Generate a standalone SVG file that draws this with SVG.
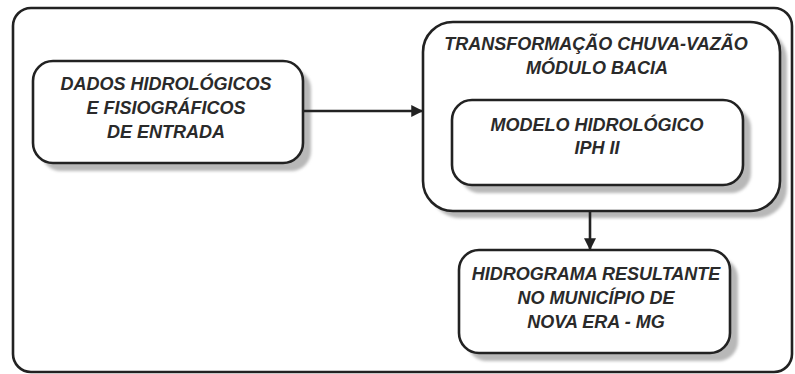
<svg xmlns="http://www.w3.org/2000/svg" width="795" height="374" viewBox="0 0 795 374">
<defs>
<style>
.box{fill:#fff;stroke:#222;stroke-width:2.6}
.sh{fill:#b8b8b8}
.t{font-family:"Liberation Sans",Arial,sans-serif;font-weight:bold;font-style:italic;font-size:18px;fill:#2a2a2a;text-anchor:middle}
.c{stroke:#222;stroke-width:2.6;fill:none}
</style>
<filter id="blur" x="-10%" y="-10%" width="120%" height="120%"><feGaussianBlur stdDeviation="1.5"/></filter>
<marker id="ah" viewBox="0 0 10 10" refX="9" refY="5" markerWidth="5" markerHeight="4.6" orient="auto" markerUnits="strokeWidth"><path d="M0,0 L10,5 L0,10 z" fill="#222"/></marker>
</defs>
<rect width="795" height="374" fill="#fff"/>
<g id="frame"><rect x="13" y="8" width="779" height="364" rx="18" class="box" fill="none"/></g>
<g id="dados">
<rect x="41" y="69" width="270" height="102" rx="20" class="sh" filter="url(#blur)"/>
<rect x="33" y="61" width="270" height="102" rx="20" class="box"/>
<text class="t" x="166" y="90">DADOS HIDROLÓGICOS</text>
<text class="t" x="166" y="114">E FISIOGRÁFICOS</text>
<text class="t" x="166" y="138">DE ENTRADA</text>
</g>
<g id="transformacao">
<rect x="430" y="29" width="357" height="189" rx="30" class="sh" filter="url(#blur)"/>
<rect x="423" y="22" width="357" height="189" rx="30" class="box"/>
<text class="t" x="596" y="50">TRANSFORMAÇÃO CHUVA-VAZÃO</text>
<text class="t" x="597" y="74">MÓDULO BACIA</text>
</g>
<g id="modelo">
<rect x="460" y="108" width="291" height="85" rx="20" class="sh" filter="url(#blur)"/>
<rect x="452" y="100" width="291" height="85" rx="20" class="box"/>
<text class="t" x="597" y="131">MODELO HIDROLÓGICO</text>
<text class="t" x="597" y="154">IPH II</text>
</g>
<g id="hidrograma">
<rect x="467" y="258" width="271" height="103" rx="20" class="sh" filter="url(#blur)"/>
<rect x="459" y="250" width="271" height="103" rx="20" class="box"/>
<text class="t" x="596" y="280">HIDROGRAMA RESULTANTE</text>
<text class="t" x="596" y="304">NO MUNICÍPIO DE</text>
<text class="t" x="596" y="328">NOVA ERA - MG</text>
</g>
<g id="connectors">
<line x1="303" y1="111" x2="422" y2="111" class="c" marker-end="url(#ah)"/>
<line x1="590" y1="211" x2="590" y2="249" class="c" marker-end="url(#ah)"/>
</g>
</svg>
